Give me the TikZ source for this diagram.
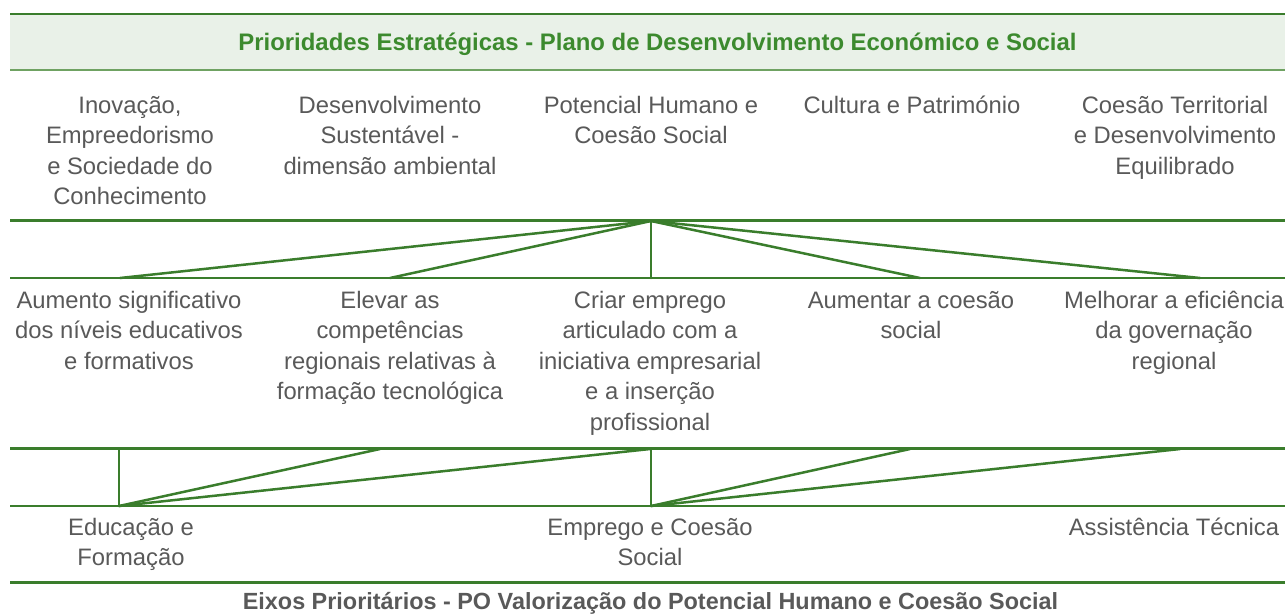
\documentclass[tikz,border=0pt]{standalone}
\usepackage{fontspec}
\setmainfont{Liberation Sans}
\definecolor{lgreen}{HTML}{3A7D2C}
\definecolor{lgreenlight}{HTML}{6FA262}
\definecolor{titlegreen}{HTML}{3C8A2E}
\definecolor{hdrfill}{HTML}{E9F1E8}
\definecolor{tgray}{HTML}{595959}
\begin{document}
\begin{tikzpicture}[x=1pt,y=-1pt,
  rule/.style={draw=lgreen, line width=2.7pt},
  conn/.style={draw=lgreen, line width=2.5pt, line cap=round},
  lbl/.style={anchor=north, align=center, inner sep=0pt, text=tgray,
    font=\fontsize{23.8}{30.5}\selectfont},
  ttl/.style={anchor=base, inner sep=0pt, font=\bfseries}]
\useasboundingbox (0,0) rectangle (1285,614);

% header band
\coordinate (H1) at (10,14);
\coordinate (H2) at (1285,70);
\fill[hdrfill] (H1) rectangle (H2);
\draw[draw=lgreen, line width=2pt] (H1) -- (H1 -| H2);
\draw[draw=lgreenlight, line width=2.5pt] (H1 |- H2) -- (H2);
\node[ttl, text=titlegreen, font=\fontsize{23.9}{28}\selectfont\bfseries] (title) at (657.5,50.5) {Prioridades Estratégicas - Plano de Desenvolvimento Económico e Social};

% horizontal rules
\coordinate (R1a) at (10,220.5);  \coordinate (R1b) at (1285,220.5);
\coordinate (R2a) at (10,278);    \coordinate (R2b) at (1285,278);
\coordinate (R3a) at (10,448.5);  \coordinate (R3b) at (1285,448.5);
\coordinate (R4a) at (10,506);    \coordinate (R4b) at (1285,506);
\coordinate (R5a) at (10,582.5);  \coordinate (R5b) at (1285,582.5);
\foreach \r in {R1,R2,R3,R4,R5} \draw[rule] (\r a) -- (\r b);

% row 1: priorities
\node[lbl] (p1) at (130,91.6) {\strut Inovação,\\Empreedorismo\\e Sociedade do\\Conhecimento};
\node[lbl] (p2) at (390,91.6) {\strut Desenvolvimento\\Sustentável -\\dimensão ambiental};
\node[lbl] (p3) at (651,91.6) {\strut Potencial Humano e\\Coesão Social};
\node[lbl] (p4) at (912,91.6) {\strut Cultura e Património};
\node[lbl] (p5) at (1175,91.6) {\strut Coesão Territorial\\e Desenvolvimento\\Equilibrado};

% upper fan
\coordinate (A) at (651,221);
\coordinate (a1) at (120,278);
\coordinate (a2) at (390,278);
\coordinate (a3) at (651,278);
\coordinate (a4) at (920,278);
\coordinate (a5) at (1200,278);
\foreach \e in {a1,a2,a3,a4,a5} \draw[conn] (A) -- (\e);

% row 2: objectives
\node[lbl] (o1) at (129,286.6) {\strut Aumento significativo\\dos níveis educativos\\e formativos};
\node[lbl] (o2) at (390,286.6) {\strut Elevar as\\competências\\regionais relativas à\\formação tecnológica};
\node[lbl] (o3) at (650,286.6) {\strut Criar emprego\\articulado com a\\iniciativa empresarial\\e a inserção\\profissional};
\node[lbl] (o4) at (911,286.6) {\strut Aumentar a coesão\\social};
\node[lbl] (o5) at (1174,286.6) {\strut Melhorar a eficiência\\da governação\\regional};

% lower fans
\coordinate (B1) at (119,506);
\coordinate (b1) at (119,449);
\coordinate (b2) at (380,449);
\coordinate (b3) at (650,449);
\draw[conn] (B1) -- (b1);
\draw[conn] (B1) -- (b2);
\draw[conn] (B1) -- (b3);
\coordinate (B2) at (651,506);
\coordinate (c1) at (651,449);
\coordinate (c2) at (910,449);
\coordinate (c3) at (1180,449);
\draw[conn] (B2) -- (c1);
\draw[conn] (B2) -- (c2);
\draw[conn] (B2) -- (c3);

% row 3: axes
\node[lbl] (e1) at (131,513.6) {\strut Educação e\\Formação};
\node[lbl] (e2) at (650,513.6) {\strut Emprego e Coesão\\Social};
\node[lbl] (e3) at (1174,513.6) {\strut Assistência Técnica};

\node[ttl, text=tgray, font=\fontsize{23.4}{28}\selectfont\bfseries] (foot) at (650.5,609.5) {Eixos Prioritários - PO Valorização do Potencial Humano e Coesão Social};
\end{tikzpicture}
\end{document}
